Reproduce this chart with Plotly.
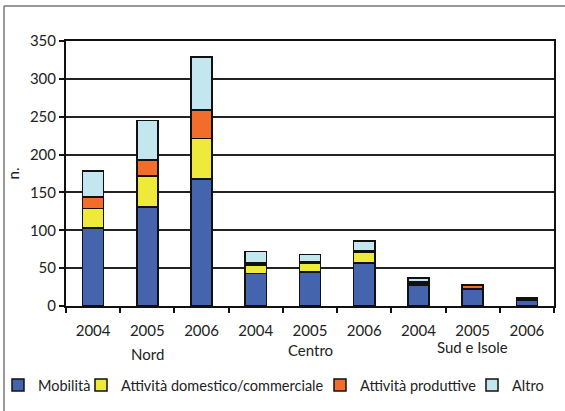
import plotly.graph_objects as go

categories = ["Nord 2004", "Nord 2005", "Nord 2006",
              "Centro 2004", "Centro 2005", "Centro 2006",
              "Sud 2004", "Sud 2005", "Sud 2006"]
year_labels = ["2004", "2005", "2006", "2004", "2005", "2006", "2004", "2005", "2006"]
groups = ["Nord", "Centro", "Sud e Isole"]
group_center = ["Nord 2005", "Centro 2005", "Sud 2005"]

mobilita = [103, 131, 168, 43, 45, 57, 27, 22, 7]
domestico = [26, 41, 53, 11, 11, 14, 2, 1, 1]
produttive = [15, 21, 38, 3, 2, 2, 3, 4, 2]
altro = [34, 52, 70, 15, 10, 13, 5, 1, 1]

series = [
    ("Mobilità", mobilita, "#4464AE"),
    ("Attività domestico/commerciale", domestico, "#EDEA3B"),
    ("Attività produttive", produttive, "#F26D2C"),
    ("Altro", altro, "#C4E6EF"),
]

FONT = "Lato"
L, R, T, B = 66, 11, 41, 105
W, H = 565, 411
pw, ph = W - L - R, H - T - B

def px(x):
    return (x - L) / pw

def py(y):
    return (H - B - y) / ph

legend_ids = ["legend", "legend2", "legend3", "legend4"]
legend_left = [-2, 81, 320, 472]   # pixel left edge of each legend box

fig = go.Figure()
for (name, vals, col), lid in zip(series, legend_ids):
    fig.add_trace(go.Bar(
        x=categories, y=vals, name=name, legend=lid,
        marker=dict(color=col, line=dict(color="#111111", width=1.5)),
    ))

layout_legends = {}
for lid, lx in zip(legend_ids, legend_left):
    layout_legends[lid] = dict(orientation="h", x=px(lx), y=py(385),
                               xanchor="left", yanchor="middle",
                               font=dict(size=14.5, family=FONT), itemwidth=30,
                               bgcolor="rgba(0,0,0,0)")

fig.update_layout(
    width=W, height=H,
    margin=dict(l=L, r=R, t=T, b=B, autoexpand=False),
    barmode="stack", bargap=0.61,
    plot_bgcolor="white", paper_bgcolor="white",
    font=dict(family=FONT, size=15, color="#222222"),
    showlegend=True,
    xaxis=dict(
        type="category", tickmode="array", tickvals=categories, ticktext=year_labels,
        tickson="boundaries", ticks="outside", ticklen=5, tickwidth=1.5, tickcolor="#111",
        showline=True, linecolor="#111", linewidth=2, mirror=True,
        tickfont=dict(size=15), showgrid=False, ticklabelstandoff=10,
    ),
    yaxis=dict(
        range=[0, 350], dtick=50, ticks="outside", ticklen=5, tickwidth=1.5, tickcolor="#111",
        showline=True, linecolor="#111", linewidth=2, mirror=True,
        showgrid=True, gridcolor="#222", gridwidth=1.5,
        tickfont=dict(size=15),
        title=dict(text="n.", font=dict(size=15), standoff=7),
    ),
    **layout_legends,
)

group_label_y = [354, 350, 347]
for g, c, gy in zip(groups, group_center, group_label_y):
    fig.add_annotation(x=c, y=py(gy), xref="x", yref="paper", text=g,
                       showarrow=False, font=dict(size=15), yanchor="middle")

# outer gray frame (left and top edges)
fig.add_shape(type="line", xref="paper", yref="paper", x0=px(4), x1=px(4), y0=py(6), y1=py(411),
              line=dict(color="#777", width=1.5))
fig.add_shape(type="line", xref="paper", yref="paper", x0=px(4), x1=px(565), y0=py(6), y1=py(6),
              line=dict(color="#777", width=1.5))

fig.write_html("out.html")
